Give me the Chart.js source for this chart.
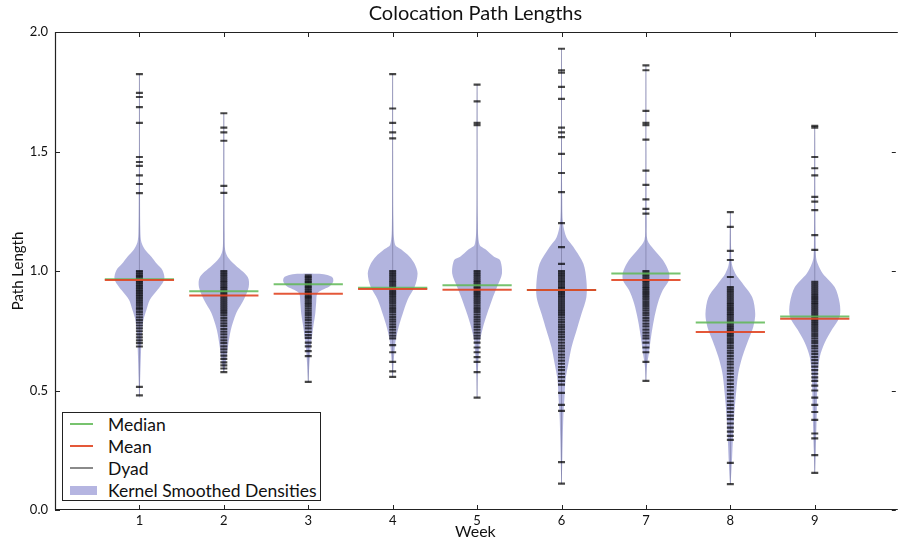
<!DOCTYPE html>
<html>
<head>
<meta charset="utf-8">
<title>Colocation Path Lengths</title>
<script src="https://cdn.jsdelivr.net/npm/chart.js@4.4.1/dist/chart.umd.min.js"></script>
<style>
  body { margin: 0; background: #fff; }
  #wrap { position: relative; width: 902px; height: 543px; }
  #legend {
    position: absolute; left: 62px; top: 412px; width: 259px; height: 89px;
    box-sizing: border-box; border: 1.5px solid #222; background: #fff;
    font-family: Lato, sans-serif; font-size: 17.5px; color: #111;
  }
  .row { height: 22px; display: flex; align-items: center; }
  .key { width: 27px; margin-left: 7px; margin-right: 11px; display: flex; align-items: center; }
  .line { width: 23px; height: 2px; }
  .patch { width: 27px; height: 9px; background: rgb(181,181,225); }
</style>
</head>
<body>
<div id="wrap">
  <canvas id="chart" width="902" height="543"></canvas>
  <div id="legend">
    <div class="row"><span class="key"><span class="line" style="background:rgba(95,185,85,0.85)"></span></span>Median</div>
    <div class="row"><span class="key"><span class="line" style="background:rgba(225,70,35,0.9)"></span></span>Mean</div>
    <div class="row"><span class="key"><span class="line" style="background:#8a8a8a"></span></span>Dyad</div>
    <div class="row"><span class="key"><span class="patch"></span></span>Kernel Smoothed Densities</div>
  </div>
</div>
<script>
// Weeks on the x axis and tick values on the y axis
const WEEKS = [1, 2, 3, 4, 5, 6, 7, 8, 9];
const Y_TICKS = [0.0, 0.5, 1.0, 1.5, 2.0];

// Median and mean path length per week
const MEDIANS = [0.965, 0.915, 0.945, 0.93, 0.94, 0.92, 0.99, 0.785, 0.81];
const MEANS = [0.962, 0.898, 0.905, 0.925, 0.922, 0.92, 0.962, 0.745, 0.80];

// Individual dyad path lengths
const DYADS_W1 = [1.824, 1.745, 1.728, 1.686, 1.62, 1.477, 1.456, 1.44, 1.40, 1.364, 1.326,
  1.0, 0.993, 0.986, 0.979, 0.972, 0.966, 0.958, 0.951, 0.944, 0.937, 0.93, 0.923, 0.916, 0.909,
  0.902, 0.895, 0.887, 0.879, 0.871, 0.863, 0.855, 0.846, 0.838, 0.828, 0.818, 0.806, 0.795,
  0.784, 0.772, 0.76, 0.748, 0.735, 0.722, 0.71, 0.698, 0.684, 0.515, 0.48];
const DYADS_W2 = [1.66, 1.60, 1.58, 1.545, 1.356, 1.327,
  1.0, 0.992, 0.984, 0.976, 0.968, 0.96, 0.952, 0.944, 0.936, 0.928, 0.92, 0.912, 0.904, 0.896,
  0.888, 0.88, 0.872, 0.864, 0.856, 0.848, 0.84, 0.832, 0.824, 0.814, 0.803, 0.792, 0.781, 0.77,
  0.758, 0.746, 0.735, 0.722, 0.71, 0.698, 0.685, 0.672, 0.66, 0.646, 0.632, 0.618, 0.605, 0.592, 0.577];
const DYADS_W3 = [0.982, 0.975, 0.968, 0.961, 0.954, 0.947, 0.94, 0.933, 0.926, 0.919, 0.912,
  0.905, 0.898, 0.891, 0.884, 0.876, 0.868, 0.86, 0.852, 0.843, 0.834, 0.825, 0.815, 0.805, 0.795,
  0.784, 0.772, 0.76, 0.745, 0.732, 0.72, 0.70, 0.685, 0.665, 0.644, 0.536];
const DYADS_W4 = [1.824, 1.68, 1.62, 1.58, 1.555,
  1.0, 0.992, 0.984, 0.976, 0.968, 0.96, 0.952, 0.944, 0.936, 0.928, 0.92, 0.912, 0.904, 0.896,
  0.888, 0.88, 0.872, 0.864, 0.855, 0.846, 0.837, 0.828, 0.818, 0.808, 0.798, 0.788, 0.777, 0.766,
  0.755, 0.742, 0.73, 0.718, 0.69, 0.66, 0.62, 0.58, 0.557];
const DYADS_W5 = [1.78, 1.71, 1.62, 1.61,
  1.0, 0.992, 0.984, 0.976, 0.968, 0.96, 0.952, 0.944, 0.936, 0.928, 0.92, 0.912, 0.904, 0.896,
  0.888, 0.88, 0.872, 0.864, 0.855, 0.846, 0.837, 0.828, 0.818, 0.808, 0.798, 0.788, 0.777, 0.766,
  0.755, 0.742, 0.73, 0.718, 0.70, 0.68, 0.66, 0.64, 0.62, 0.577, 0.47];
const DYADS_W6 = [1.93, 1.84, 1.83, 1.77, 1.72, 1.60, 1.58, 1.56, 1.49, 1.41, 1.33, 1.20, 1.10, 1.03,
  1.0, 0.992, 0.984, 0.976, 0.968, 0.96, 0.952, 0.944, 0.936, 0.928, 0.92, 0.912, 0.904, 0.896,
  0.888, 0.88, 0.872, 0.864, 0.856, 0.848, 0.84, 0.832, 0.824, 0.816, 0.806, 0.796, 0.786, 0.776,
  0.766, 0.756, 0.745, 0.735, 0.724, 0.713, 0.70, 0.688, 0.676, 0.664, 0.65, 0.638, 0.625, 0.612,
  0.598, 0.585, 0.57, 0.556, 0.54, 0.525, 0.49, 0.44, 0.415, 0.2, 0.11];
const DYADS_W7 = [1.86, 1.84, 1.67, 1.62, 1.61, 1.55, 1.42, 1.36, 1.30, 1.26, 1.24,
  1.0, 0.992, 0.984, 0.976, 0.968, 0.96, 0.952, 0.944, 0.936, 0.928, 0.92, 0.912, 0.904, 0.896,
  0.888, 0.88, 0.871, 0.862, 0.853, 0.844, 0.834, 0.824, 0.814, 0.803, 0.792, 0.78, 0.768, 0.755,
  0.742, 0.73, 0.718, 0.70, 0.68, 0.66, 0.62, 0.54];
const DYADS_W8 = [1.246, 1.185, 1.084, 1.046, 0.975,
  0.933, 0.925, 0.917, 0.909, 0.901, 0.893, 0.885, 0.877, 0.869, 0.861, 0.853, 0.845, 0.837, 0.829,
  0.821, 0.813, 0.805, 0.797, 0.789, 0.781, 0.773, 0.765, 0.757, 0.749, 0.741, 0.733, 0.725, 0.716,
  0.707, 0.698, 0.688, 0.678, 0.667, 0.656, 0.645, 0.633, 0.621, 0.609, 0.596, 0.583, 0.57, 0.556,
  0.542, 0.528, 0.514, 0.5, 0.485, 0.47, 0.455, 0.44, 0.425, 0.41, 0.395, 0.38, 0.362, 0.345,
  0.328, 0.31, 0.293, 0.197, 0.108];
const DYADS_W9 = [1.607, 1.60, 1.477, 1.43, 1.40, 1.31, 1.29, 1.255, 1.15, 1.088,
  0.955, 0.947, 0.939, 0.931, 0.923, 0.915, 0.907, 0.899, 0.891, 0.883, 0.875, 0.867, 0.859, 0.851,
  0.843, 0.835, 0.827, 0.819, 0.811, 0.803, 0.795, 0.787, 0.779, 0.771, 0.763, 0.755, 0.746, 0.737,
  0.728, 0.718, 0.708, 0.698, 0.687, 0.676, 0.664, 0.652, 0.64, 0.627, 0.614, 0.6, 0.585, 0.57,
  0.555, 0.54, 0.52, 0.50, 0.47, 0.44, 0.41, 0.377, 0.32, 0.30, 0.23, 0.155];

// Kernel smoothed density per week: [path length, relative density]
const KDE_W1 = [[0.47, 0.01], [0.55, 0.03], [0.65, 0.06], [0.72, 0.09], [0.78, 0.14], [0.80, 0.17],
  [0.837, 0.28], [0.88, 0.42], [0.92, 0.72], [0.966, 1.0], [1.004, 0.92], [1.03, 0.70], [1.06, 0.48],
  [1.09, 0.22], [1.12, 0.08], [1.16, 0.04], [1.3, 0.025], [1.5, 0.015], [1.824, 0.01]];
const KDE_W2 = [[0.577, 0.01], [0.615, 0.08], [0.68, 0.16], [0.753, 0.28], [0.824, 0.50], [0.88, 0.80],
  [0.933, 1.0], [0.975, 0.96], [1.03, 0.40], [1.06, 0.15], [1.09, 0.05], [1.15, 0.03], [1.35, 0.02], [1.66, 0.01]];
const KDE_W3 = [[0.536, 0.01], [0.60, 0.04], [0.66, 0.08], [0.71, 0.13], [0.766, 0.20], [0.82, 0.28],
  [0.87, 0.32], [0.905, 0.36], [0.92, 0.55], [0.935, 0.85], [0.955, 1.0], [0.972, 0.98], [0.982, 0.8],
  [0.988, 0.45], [0.99, 0.0]];
const KDE_W4 = [[0.556, 0.01], [0.62, 0.04], [0.71, 0.12], [0.766, 0.24], [0.82, 0.40], [0.88, 0.60],
  [0.933, 0.88], [0.99, 1.0], [1.03, 0.88], [1.06, 0.68], [1.09, 0.35], [1.11, 0.1], [1.2, 0.03],
  [1.5, 0.015], [1.824, 0.01]];
const KDE_W5 = [[0.47, 0.01], [0.58, 0.03], [0.66, 0.08], [0.71, 0.12], [0.766, 0.24], [0.82, 0.40],
  [0.88, 0.60], [0.933, 0.80], [0.99, 1.0], [1.046, 0.92], [1.06, 0.68], [1.09, 0.35], [1.11, 0.1],
  [1.2, 0.03], [1.5, 0.015], [1.78, 0.01]];
const KDE_W6 = [[0.11, 0.01], [0.2, 0.03], [0.3, 0.05], [0.405, 0.08], [0.47, 0.12], [0.544, 0.16],
  [0.615, 0.28], [0.68, 0.40], [0.75, 0.60], [0.82, 0.80], [0.89, 1.0], [0.96, 1.0], [1.03, 0.88],
  [1.10, 0.48], [1.14, 0.2], [1.2, 0.06], [1.3, 0.03], [1.6, 0.015], [1.93, 0.01]];
const KDE_W7 = [[0.54, 0.01], [0.60, 0.04], [0.657, 0.12], [0.72, 0.20], [0.795, 0.32], [0.866, 0.48],
  [0.92, 0.68], [0.96, 0.92], [0.996, 0.92], [1.046, 0.68], [1.09, 0.32], [1.13, 0.06], [1.2, 0.03],
  [1.5, 0.015], [1.86, 0.01]];
const KDE_W8 = [[0.108, 0.01], [0.197, 0.06], [0.29, 0.10], [0.405, 0.16], [0.50, 0.24], [0.573, 0.32],
  [0.64, 0.48], [0.71, 0.72], [0.766, 0.92], [0.82, 1.0], [0.89, 0.88], [0.95, 0.48], [0.99, 0.2],
  [1.03, 0.06], [1.1, 0.03], [1.246, 0.01]];
const KDE_W9 = [[0.155, 0.01], [0.25, 0.04], [0.40, 0.08], [0.51, 0.10], [0.57, 0.12], [0.64, 0.20],
  [0.70, 0.40], [0.753, 0.68], [0.81, 1.0], [0.866, 1.0], [0.933, 0.80], [0.99, 0.32], [1.03, 0.12],
  [1.06, 0.05], [1.15, 0.03], [1.3, 0.02], [1.607, 0.01]];

const ALL_DYADS = [DYADS_W1, DYADS_W2, DYADS_W3, DYADS_W4, DYADS_W5, DYADS_W6, DYADS_W7, DYADS_W8, DYADS_W9];
const ALL_KDE = [KDE_W1, KDE_W2, KDE_W3, KDE_W4, KDE_W5, KDE_W6, KDE_W7, KDE_W8, KDE_W9];

const VIOLIN_HALF_WIDTH = 0.295; // widest point of a violin, in weeks
const LINE_HALF_WIDTH = 0.41;    // half length of median / mean bars
const FONT = 'Lato, sans-serif';

// Closed outline of a violin: up the right side, back down the left
function violinPoints(week, kde) {
  const right = kde.map(([y, d]) => ({ x: week + d * VIOLIN_HALF_WIDTH, y: y }));
  const left = kde.slice().reverse().map(([y, d]) => ({ x: week - d * VIOLIN_HALF_WIDTH, y: y }));
  return right.concat(left);
}

const datasets = [];

WEEKS.forEach((week, i) => {
  datasets.push({
    type: 'line',
    data: violinPoints(week, ALL_KDE[i]),
    backgroundColor: 'rgba(115,118,195,0.55)',
    borderWidth: 0,
    pointRadius: 0,
    tension: 0.3,
    fill: 'shape',
    order: 5
  });

  const dyads = ALL_DYADS[i];
  datasets.push({
    type: 'line',
    data: [{ x: week, y: Math.min(...dyads) }, { x: week, y: Math.max(...dyads) }],
    borderColor: 'rgba(90,90,130,0.45)',
    borderWidth: 1,
    pointRadius: 0,
    fill: false,
    order: 4
  });

  datasets.push({
    type: 'scatter',
    data: dyads.map(v => ({ x: week, y: v })),
    pointStyle: 'line',
    pointRadius: 3.5,
    borderColor: 'rgba(0,0,0,0.72)',
    borderWidth: 2.2,
    order: 3
  });

  datasets.push({
    type: 'line',
    data: [{ x: week - LINE_HALF_WIDTH, y: MEDIANS[i] }, { x: week + LINE_HALF_WIDTH, y: MEDIANS[i] }],
    borderColor: 'rgba(95,185,85,0.85)',
    borderWidth: 2,
    pointRadius: 0,
    fill: false,
    order: 2
  });

  datasets.push({
    type: 'line',
    data: [{ x: week - LINE_HALF_WIDTH, y: MEANS[i] }, { x: week + LINE_HALF_WIDTH, y: MEANS[i] }],
    borderColor: 'rgba(225,70,35,0.9)',
    borderWidth: 2,
    pointRadius: 0,
    fill: false,
    order: 1
  });
});

// Matplotlib style frame with inward ticks; the right spine falls just off the picture
const framePlugin = {
  id: 'frame',
  afterDatasetsDraw(chart) {
    const { ctx, chartArea: a, scales: { x, y } } = chart;
    ctx.save();
    ctx.strokeStyle = '#222';
    ctx.lineWidth = 1.2;
    ctx.beginPath();
    ctx.moveTo(a.right + 2, a.top + 0.5);
    ctx.lineTo(a.left + 0.5, a.top + 0.5);
    ctx.lineTo(a.left + 0.5, a.bottom - 0.5);
    ctx.lineTo(a.right + 2, a.bottom - 0.5);
    ctx.stroke();
    ctx.lineWidth = 1;
    ctx.beginPath();
    WEEKS.forEach(w => {
      const px = Math.round(x.getPixelForValue(w)) + 0.5;
      ctx.moveTo(px, a.bottom); ctx.lineTo(px, a.bottom - 5);
      ctx.moveTo(px, a.top); ctx.lineTo(px, a.top + 5);
    });
    Y_TICKS.forEach(v => {
      const py = Math.round(y.getPixelForValue(v)) + 0.5;
      ctx.moveTo(a.left, py); ctx.lineTo(a.left + 5, py);
      ctx.moveTo(a.right, py); ctx.lineTo(a.right - 4, py);
    });
    ctx.stroke();
    ctx.restore();
  }
};

new Chart(document.getElementById('chart'), {
  type: 'scatter',
  data: { datasets: datasets },
  options: {
    responsive: false,
    animation: false,
    devicePixelRatio: 1,
    layout: { padding: 0 },
    plugins: {
      legend: { display: false },
      tooltip: { enabled: false },
      title: {
        display: true,
        text: 'Colocation Path Lengths',
        fullSize: false,
        color: '#111',
        font: { family: FONT, size: 20, weight: 'normal' },
        padding: { top: 2, bottom: 6 }
      }
    },
    scales: {
      x: {
        type: 'linear',
        min: 0,
        max: 9.96,
        afterBuildTicks: scale => { scale.ticks = WEEKS.map(v => ({ value: v })); },
        afterFit: scale => { scale.height = 33; },
        ticks: {
          callback: v => String(v),
          color: '#111',
          padding: 3,
          font: { family: FONT, size: 13 }
        },
        grid: { display: false, drawTicks: false },
        border: { display: false },
        title: {
          display: true,
          text: 'Week',
          color: '#111',
          font: { family: FONT, size: 16 },
          padding: { top: 0, bottom: 2 }
        }
      },
      y: {
        type: 'linear',
        min: 0,
        max: 2,
        afterBuildTicks: scale => { scale.ticks = Y_TICKS.map(v => ({ value: v })); },
        afterFit: scale => { scale.width = 55; },
        ticks: {
          callback: v => v.toFixed(1),
          color: '#111',
          padding: 7,
          font: { family: FONT, size: 13 }
        },
        grid: { display: false, drawTicks: false },
        border: { display: false },
        title: {
          display: true,
          text: 'Path Length',
          color: '#111',
          font: { family: FONT, size: 15 },
          padding: { top: 9, bottom: 0 }
        }
      }
    }
  },
  plugins: [framePlugin]
});
</script>
</body>
</html>
